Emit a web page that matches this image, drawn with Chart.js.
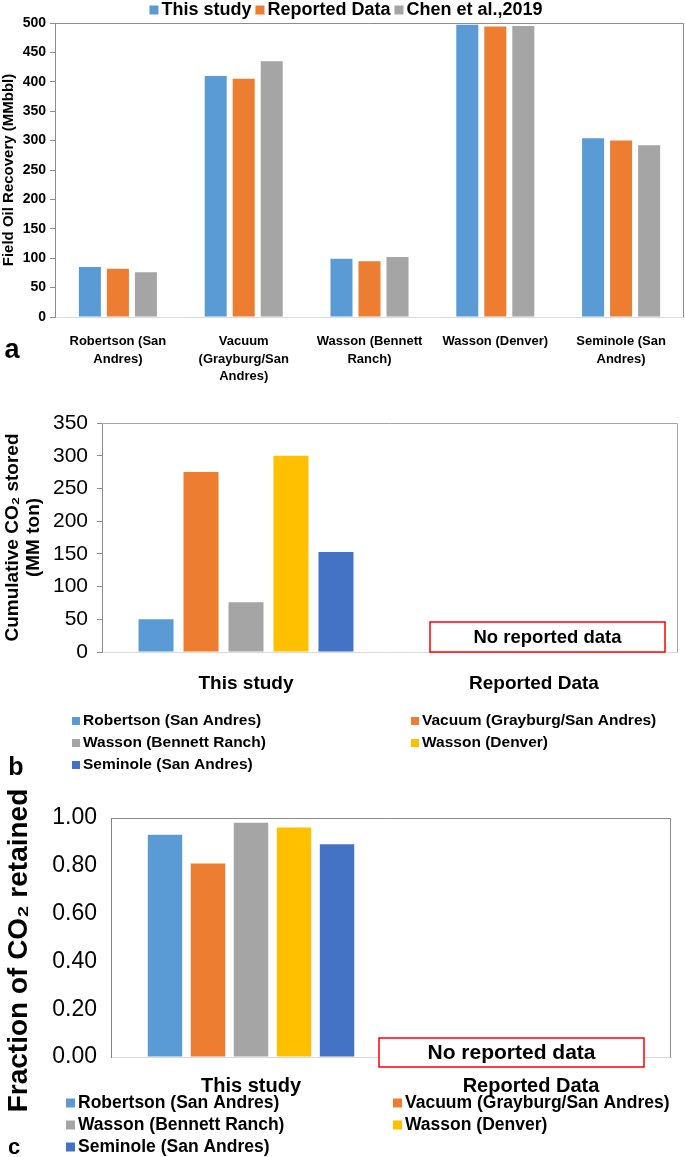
<!DOCTYPE html>
<html><head><meta charset="utf-8">
<script src="https://cdn.jsdelivr.net/npm/chart.js@4.4.1/dist/chart.umd.min.js"></script>
<style>
html,body{margin:0;padding:0;background:#fff;}
#wrap{position:relative;width:685px;height:1157px;background:#fff;overflow:hidden;}
canvas{position:absolute;left:0;}
</style></head><body>
<div id="wrap">
<canvas id="ca" width="685" height="400" style="top:0px"></canvas>
<canvas id="cb" width="685" height="395" style="top:400px"></canvas>
<canvas id="cc" width="685" height="387" style="top:770px"></canvas>
</div>
<script>
// ---------- data ----------
const fieldLabels = [["Robertson (San","Andres)"],["Vacuum","(Grayburg/San","Andres)"],["Wasson (Bennett","Ranch)"],["Wasson (Denver)"],["Seminole (San","Andres)"]];
const recoverySeries = ["This study","Reported Data","Chen et al.,2019"];
const recoveryThisStudy = [85, 410, 99, 497, 304];
const recoveryReported  = [82, 405, 95, 494, 300];
const recoveryChen      = [76, 435, 102, 495, 292];
const recoveryTicks = [0,50,100,150,200,250,300,350,400,450,500];

const sourceCategories = ["This study","Reported Data"];
const fieldNames = ["Robertson (San Andres)","Vacuum (Grayburg/San Andres)","Wasson (Bennett Ranch)","Wasson (Denver)","Seminole (San Andres)"];
const co2Stored = [50, 275, 76, 300, 153];          // MM ton, This study
const co2StoredReported = [null, null, null, null, null];
const co2Retained = [0.93, 0.81, 0.98, 0.96, 0.89]; // fraction, This study
const co2RetainedReported = [null, null, null, null, null];
const storedTicks = [0,50,100,150,200,250,300,350];
const retainedTicks = [0,0.2,0.4,0.6,0.8,1.0];

// ---------- style ----------
const FONT = "'Liberation Sans',Arial,sans-serif";
const seriesColors = ['#5B9BD5','#ED7D31','#A5A5A5'];
const fieldColors = ['#5B9BD5','#ED7D31','#A5A5A5','#FFC000','#4472C4'];

// ---------- plugins ----------
const framePlugin = {
  id:'frame',
  afterDraw(chart, args, o){
    const {ctx, chartArea:a} = chart;
    ctx.save();
    ctx.strokeStyle = o.color || '#8c8c8c'; ctx.lineWidth = 1;
    ctx.beginPath();
    ctx.moveTo(a.left, Math.round(a.top)+0.5);
    ctx.lineTo(Math.round(a.right)-0.5, Math.round(a.top)+0.5);
    ctx.lineTo(Math.round(a.right)-0.5, a.bottom);
    ctx.stroke();
    ctx.restore();
  }
};
const legendPlugin = {
  id:'gridLegend',
  afterDraw(chart, args, o){
    if(!o.show) return;
    const ctx = chart.ctx;
    const items = chart.data.datasets.map(d=>({text:d.label, color:d.backgroundColor}));
    ctx.save();
    ctx.font = o.font; ctx.textBaseline = 'middle'; ctx.textAlign='left';
    if(o.mode === 'flow'){
      const widths = items.map(it=>o.box + o.gap + ctx.measureText(it.text).width);
      const total = widths.reduce((s,w)=>s+w,0) + o.spacing*(items.length-1);
      let x = o.cx - total/2;
      items.forEach((it,i)=>{
        ctx.fillStyle = it.color; ctx.fillRect(x, o.y - o.box/2, o.box, o.box);
        ctx.fillStyle = o.textColor; ctx.fillText(it.text, x + o.box + o.gap, o.y);
        x += widths[i] + o.spacing;
      });
    } else {
      items.forEach((it,i)=>{
        const col = i % o.cols.length, row = Math.floor(i / o.cols.length);
        const x = o.cols[col], y = o.rows[row];
        ctx.fillStyle = it.color; ctx.fillRect(x, y - o.box/2, o.box, o.box);
        ctx.fillStyle = o.textColor; ctx.fillText(it.text, x + o.box + o.gap, y);
      });
    }
    ctx.restore();
  }
};
const letterPlugin = {
  id:'panelLetter',
  afterDraw(chart, args, o){
    if(!o.text) return;
    const ctx = chart.ctx; ctx.save();
    ctx.font = o.font; ctx.fillStyle = '#000'; ctx.textAlign='center'; ctx.textBaseline='middle';
    ctx.fillText(o.text, o.x, o.y); ctx.restore();
  }
};
const yTitlePlugin = {
  id:'yTitle',
  afterDraw(chart, args, o){
    if(!o.text) return;
    const ctx = chart.ctx, a = chart.chartArea;
    ctx.save();
    ctx.translate(o.x, (a.top + a.bottom)/2 + o.dy);
    ctx.rotate(-Math.PI/2);
    ctx.font = o.font; ctx.fillStyle = '#000'; ctx.textAlign='center'; ctx.textBaseline='middle';
    ctx.fillText(o.text, 0, 0);
    ctx.restore();
  }
};
const noDataPlugin = {
  id:'noData',
  afterDraw(chart, args, o){
    if(!o.text) return;
    const ctx = chart.ctx, xs = chart.scales.x, ys = chart.scales.y;
    const cx = xs.getPixelForValue(o.category);
    const bottom = ys.getPixelForValue(0) + o.below;
    const left = cx + o.dxLeft, right = cx + o.dxRight, top = bottom - o.height;
    ctx.save();
    ctx.fillStyle = '#fff'; ctx.fillRect(left, top, right-left, o.height);
    ctx.strokeStyle = '#FF0000'; ctx.lineWidth = 1.5;
    ctx.strokeRect(left, top, right-left, o.height);
    ctx.fillStyle = '#000'; ctx.font = o.font; ctx.textAlign='center'; ctx.textBaseline='middle';
    ctx.fillText(o.text, (left+right)/2, top + o.height/2 + 1);
    ctx.restore();
  }
};
Chart.register(framePlugin, legendPlugin, letterPlugin, yTitlePlugin, noDataPlugin);

// ---------- panel a ----------
const recoveryData = [recoveryThisStudy, recoveryReported, recoveryChen];
new Chart(document.getElementById('ca'), {
  type:'bar',
  data:{
    labels: fieldLabels,
    datasets: recoverySeries.map((name,i)=>({label:name, data:recoveryData[i], backgroundColor:seriesColors[i],
      categoryPercentage:0.668, barPercentage:0.786}))
  },
  options:{
    responsive:false, animation:false,
    layout:{padding:{top:23, right:1, left:0, bottom:0}},
    plugins:{
      legend:{display:false}, tooltip:{enabled:false},
      frame:{color:'#8c8c8c'},
      gridLegend:{show:true, mode:'flow', cx:346, y:10, box:9, gap:3, spacing:4, font:`bold 18px ${FONT}`, textColor:'#000'},
      panelLetter:{text:'a', x:12, y:351, font:`bold 27px ${FONT}`},
      yTitle:{}, noData:{}
    },
    scales:{
      x:{
        grid:{display:false}, border:{color:'#d9d9d9'},
        ticks:{color:'#000', font:{family:FONT, size:13, weight:'bold', lineHeight:1.35}, maxRotation:0, autoSkip:false, padding:8},
        afterFit(s){ s.height = 83; }
      },
      y:{
        min:0, max:500,
        afterBuildTicks(s){ s.ticks = recoveryTicks.map(v=>({value:v})); },
        ticks:{color:'#000', font:{family:FONT, size:14, weight:'bold'}, padding:4},
        grid:{drawOnChartArea:false, tickLength:5, tickColor:'#8c8c8c'},
        border:{color:'#8c8c8c'},
        title:{display:true, text:'Field Oil Recovery (MMbbl)', color:'#000', font:{family:FONT, size:15, weight:'bold'}, padding:{top:0,bottom:0}},
        afterFit(s){ s.width = 55; }
      }
    }
  }
});

// ---------- panel b ----------
new Chart(document.getElementById('cb'), {
  type:'bar',
  data:{
    labels: sourceCategories,
    datasets: fieldNames.map((name,i)=>({label:name, data:[co2Stored[i], co2StoredReported[i]], backgroundColor:fieldColors[i],
      categoryPercentage:0.781, barPercentage:0.778}))
  },
  options:{
    responsive:false, animation:false,
    layout:{padding:{top:23, right:7, left:0, bottom:0}},
    plugins:{
      legend:{display:false}, tooltip:{enabled:false},
      frame:{color:'#a6a6a6'},
      gridLegend:{show:true, mode:'grid', cols:[72, 411], rows:[321,343,365], box:8, gap:3, font:`bold 15.5px ${FONT}`, textColor:'#000'},
      panelLetter:{text:'b', x:16, y:368, font:`bold 25px ${FONT}`},
      yTitle:{},
      noData:{text:'No reported data', category:1, dxLeft:-104, dxRight:131, height:30, below:0, font:`bold 18.5px ${FONT}`}
    },
    scales:{
      x:{
        grid:{display:false}, border:{color:'#d9d9d9'},
        ticks:{color:'#000', font:{family:FONT, size:19, weight:'bold'}, maxRotation:0, autoSkip:false, padding:12},
        afterFit(s){ s.height = 143; }
      },
      y:{
        min:0, max:350,
        afterBuildTicks(s){ s.ticks = storedTicks.map(v=>({value:v})); },
        ticks:{color:'#000', font:{family:FONT, size:21}, padding:9},
        grid:{drawOnChartArea:false, tickLength:5, tickColor:'#8c8c8c'},
        border:{color:'#8c8c8c'},
        title:{display:true, text:['Cumulative CO\u2082 stored','(MM ton)'], color:'#000', font:{family:FONT, size:19, weight:'bold', lineHeight:1.1}, padding:{top:2,bottom:0}},
        afterFit(s){ s.width = 102; }
      }
    }
  }
});

// ---------- panel c ----------
new Chart(document.getElementById('cc'), {
  type:'bar',
  data:{
    labels: sourceCategories,
    datasets: fieldNames.map((name,i)=>({label:name, data:[co2Retained[i], co2RetainedReported[i]], backgroundColor:fieldColors[i],
      categoryPercentage:0.768, barPercentage:0.8}))
  },
  options:{
    responsive:false, animation:false,
    layout:{padding:{top:48, right:14, left:0, bottom:0}},
    plugins:{
      legend:{display:false}, tooltip:{enabled:false},
      frame:{color:'#8c8c8c'},
      gridLegend:{show:true, mode:'grid', cols:[66, 393], rows:[333,355,377], box:9, gap:3, font:`bold 17.5px ${FONT}`, textColor:'#000'},
      panelLetter:{text:'c', x:14, y:378, font:`bold 22px ${FONT}`},
      yTitle:{text:'Fraction of CO\u2082 retained', x:19, dy:13, font:`bold 28px ${FONT}`},
      noData:{text:'No reported data', category:1, dxLeft:-152, dxRight:113, height:29, below:10, font:`bold 21px ${FONT}`}
    },
    scales:{
      x:{
        grid:{display:false}, border:{color:'#d9d9d9'},
        ticks:{color:'#000', font:{family:FONT, size:20, weight:'bold'}, maxRotation:0, autoSkip:false, padding:9},
        afterFit(s){ s.height = 100; }
      },
      y:{
        min:0, max:1,
        afterBuildTicks(s){ s.ticks = retainedTicks.map(v=>({value:v})); },
        ticks:{color:'#000', font:{family:FONT, size:23}, padding:14, callback:(v)=>Number(v).toFixed(2)},
        grid:{drawOnChartArea:false, tickLength:0, tickColor:'#8c8c8c'},
        border:{color:'#7f7f7f'},
        title:{display:false},
        afterFit(s){ s.width = 111; }
      }
    }
  }
});
</script>
</body></html>
